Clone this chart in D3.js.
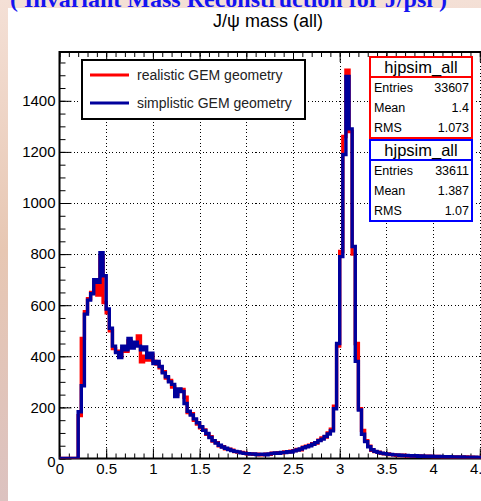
<!DOCTYPE html>
<html>
<head>
<meta charset="utf-8">
<script src="https://cdn.jsdelivr.net/npm/d3@7"></script>
<style>
  body { margin: 0; background: #fff; }
  svg { display: block; }
  text { font-family: "Liberation Sans", Arial, sans-serif; }
</style>
</head>
<body>
<svg width="481" height="501"></svg>
<script>
// 150 bins from 0 to 5 GeV
var binWidth = 1 / 30;

var simplistic = [
  0, 0, 0, 0, 0, 0, 183, 285, 565, 620,
  645, 700, 690, 805, 715, 585, 510, 440, 415, 395,
  440, 425, 470, 432, 455, 440, 425, 437, 395, 412,
  372, 380, 360, 335, 320, 300, 290, 242, 272, 262,
  215, 185, 170, 155, 140, 124, 110, 98, 82, 70,
  60, 52, 45, 40, 35, 31, 28, 26, 22, 20,
  19, 17, 18, 15, 16, 17, 14, 18, 20, 22,
  20, 24, 23, 27, 25, 30, 33, 37, 42, 46,
  50, 56, 62, 70, 76, 86, 96, 108, 195, 450,
  790, 1190, 1495, 1290, 830, 380, 190, 95, 66, 46,
  34, 28, 24, 21, 19, 17, 16, 14, 14, 13,
  12, 12, 11, 10, 11, 9, 10, 9, 8, 9,
  8, 7, 8, 7, 6, 7, 6, 6, 5, 6,
  5, 5, 4, 5, 4, 4, 4, 3, 4, 3,
  3, 3, 2, 3, 2, 2, 2, 2, 1, 2
];

var realistic = [
  0, 0, 0, 0, 0, 0, 168, 470, 575, 625,
  650, 690, 640, 790, 610, 570, 500, 430, 420, 400,
  430, 420, 460, 440, 450, 480, 378, 400, 385, 405,
  380, 370, 355, 340, 315, 305, 280, 250, 265, 270,
  240, 180, 175, 150, 135, 120, 112, 95, 85, 68,
  62, 50, 46, 38, 36, 32, 27, 25, 24, 21,
  18, 18, 16, 17, 14, 15, 17, 16, 21, 20,
  23, 22, 26, 25, 29, 31, 35, 34, 44, 48,
  52, 58, 60, 72, 80, 84, 100, 115, 205, 440,
  810, 1260, 1520, 1280, 800, 450, 195, 110, 70, 48,
  32, 27, 25, 20, 18, 18, 15, 14, 13, 12,
  13, 11, 10, 11, 9, 10, 9, 8, 9, 8,
  7, 8, 7, 6, 7, 6, 5, 6, 5, 5,
  6, 4, 5, 4, 4, 3, 4, 3, 3, 3,
  2, 3, 3, 2, 2, 2, 1, 2, 2, 1
];

var xTicks = [0, 0.5, 1, 1.5, 2, 2.5, 3, 3.5, 4, 4.5];
var yTicks = [0, 200, 400, 600, 800, 1000, 1200, 1400];

var legendLabels = ["realistic GEM geometry", "simplistic GEM geometry"];
var statNames = ["Entries", "Mean", "RMS"];
var statsRealistic = ["33607", "1.4", "1.073"];
var statsSimplistic = ["33611", "1.387", "1.07"];

var svg = d3.select("svg");

var x = d3.scaleLinear().domain([0, 5]).range([59.5, 526.5]);
var y = d3.scaleLinear().domain([0, 1591]).range([458.5, 52]);
var yTop = y.range()[1];

// slide background behind the canvas
var grad = svg.append("defs").append("linearGradient")
  .attr("id", "bg").attr("x1", 0).attr("y1", 0).attr("x2", 0).attr("y2", 1);
grad.append("stop").attr("offset", "0%").attr("stop-color", "#f4e0d6");
grad.append("stop").attr("offset", "50%").attr("stop-color", "#e7c7b3");
grad.append("stop").attr("offset", "100%").attr("stop-color", "#dcc2c0");
svg.append("rect").attr("width", 481).attr("height", 501).attr("fill", "url(#bg)");
svg.append("rect").attr("x", 8).attr("y", 8).attr("width", 473).attr("height", 493).attr("fill", "#fff");

svg.append("text")
  .attr("x", 10).attr("y", 7)
  .style("font-family", "'Liberation Serif', 'Times New Roman', serif")
  .style("font-weight", "bold")
  .style("font-size", "24px")
  .attr("fill", "#1414f0")
  .text("( Invariant Mass Reconstruction for J/psi )");

svg.append("text")
  .attr("x", 268).attr("y", 27)
  .attr("text-anchor", "middle")
  .style("font-size", "18px")
  .text("J/ψ mass (all)");

svg.append("clipPath").attr("id", "frameClip")
  .append("rect")
  .attr("x", x(0)).attr("y", yTop)
  .attr("width", x(5) - x(0)).attr("height", y(0) - yTop);

// dotted grid
svg.append("g")
  .attr("transform", "translate(0," + y(0) + ")")
  .call(d3.axisBottom(x).tickValues(xTicks.slice(1)).tickSize(-(y(0) - yTop)).tickFormat(""))
  .call(function(g) { g.select(".domain").remove(); })
  .selectAll("line").attr("stroke", "#000").attr("stroke-dasharray", "1,2.5")
  .attr("shape-rendering", "crispEdges");

svg.append("g")
  .attr("transform", "translate(" + x(0) + ",0)")
  .call(d3.axisLeft(y).tickValues(yTicks.slice(1)).tickSize(-(x(5) - x(0))).tickFormat(""))
  .call(function(g) { g.select(".domain").remove(); })
  .selectAll("line").attr("stroke", "#000").attr("stroke-dasharray", "1,2.5")
  .attr("shape-rendering", "crispEdges");

// minor ticks
var xMinor = d3.range(0, 50).map(function(i) { return i / 10; });
var yMinor = d3.range(0, 32).map(function(i) { return i * 50; });

svg.append("g")
  .attr("transform", "translate(0," + y(0) + ")")
  .call(d3.axisBottom(x).tickValues(xMinor).tickSize(-5).tickFormat(""))
  .call(function(g) { g.select(".domain").remove(); });
svg.append("g")
  .attr("transform", "translate(0," + yTop + ")")
  .call(d3.axisTop(x).tickValues(xMinor).tickSize(-5).tickFormat(""))
  .call(function(g) { g.select(".domain").remove(); });
svg.append("g")
  .attr("transform", "translate(" + x(0) + ",0)")
  .call(d3.axisLeft(y).tickValues(yMinor).tickSize(-6).tickFormat(""))
  .call(function(g) { g.select(".domain").remove(); });

// major ticks + labels
var xAxis = svg.append("g")
  .attr("transform", "translate(0," + y(0) + ")")
  .call(d3.axisBottom(x).tickValues(xTicks).tickSize(-10).tickPadding(5).tickFormat(d3.format("~g")));
xAxis.select(".domain").remove();
xAxis.selectAll("text").style("font-size", "15px").attr("fill", "#000");

svg.append("g")
  .attr("transform", "translate(0," + yTop + ")")
  .call(d3.axisTop(x).tickValues(xTicks).tickSize(-10).tickFormat(""))
  .call(function(g) { g.select(".domain").remove(); });

var yAxis = svg.append("g")
  .attr("transform", "translate(" + x(0) + ",0)")
  .call(d3.axisLeft(y).tickValues(yTicks).tickSize(-12).tickPadding(4).tickFormat(d3.format("d")));
yAxis.select(".domain").remove();
yAxis.selectAll("text").style("font-size", "15px").attr("fill", "#000");
yAxis.selectAll(".tick").filter(function(d) { return d === 0; }).select("text")
  .attr("dy", "0.5em").attr("x", -4);

svg.selectAll(".tick line").attr("stroke-width", 1);

// frame
svg.append("rect")
  .attr("x", x(0)).attr("y", yTop)
  .attr("width", x(5) - x(0)).attr("height", y(0) - yTop)
  .attr("fill", "none").attr("stroke", "#000").attr("stroke-width", 2);

function histPath(vals) {
  var p = d3.path();
  p.moveTo(x(0), y(vals[0]));
  vals.forEach(function(v, i) {
    if (i > 0) p.lineTo(x(i * binWidth), y(v));
    p.lineTo(x((i + 1) * binWidth), y(v));
  });
  return p.toString();
}

var hists = svg.append("g").attr("clip-path", "url(#frameClip)");
hists.append("path")
  .attr("d", histPath(realistic))
  .attr("fill", "none").attr("stroke", "#ff0000").attr("stroke-width", 3.4);
hists.append("path")
  .attr("d", histPath(simplistic))
  .attr("fill", "none").attr("stroke", "#00009c").attr("stroke-width", 3.4);

// legend
var legend = svg.append("g");
legend.append("rect")
  .attr("x", 82).attr("y", 60).attr("width", 223).attr("height", 59)
  .attr("fill", "#fff").attr("stroke", "#000").attr("stroke-width", 2);
var legColors = ["#ff0000", "#00009c"];
legendLabels.forEach(function(lab, i) {
  var ly = 75 + i * 28;
  legend.append("line")
    .attr("x1", 90).attr("x2", 129).attr("y1", ly).attr("y2", ly)
    .attr("stroke", legColors[i]).attr("stroke-width", 3);
  legend.append("text")
    .attr("x", 137).attr("y", ly + 5)
    .style("font-size", "14px").attr("fill", "#222")
    .text(lab);
});

// stats boxes
function statBox(boxTop, color, vals) {
  var g = svg.append("g");
  g.append("rect")
    .attr("x", 370).attr("y", boxTop).attr("width", 102).attr("height", 81)
    .attr("fill", "#fff").attr("stroke", color).attr("stroke-width", 2);
  g.append("line")
    .attr("x1", 370).attr("x2", 472).attr("y1", boxTop + 20).attr("y2", boxTop + 20)
    .attr("stroke", color).attr("stroke-width", 2);
  g.append("text")
    .attr("x", 421).attr("y", boxTop + 16)
    .attr("text-anchor", "middle")
    .style("font-size", "16.5px")
    .text("hjpsim_all");
  statNames.forEach(function(n, i) {
    var ty = boxTop + 34.5 + i * 20.3;
    g.append("text").attr("x", 374).attr("y", ty).style("font-size", "12.5px").text(n);
    g.append("text").attr("x", 469).attr("y", ty).attr("text-anchor", "end")
      .style("font-size", "12.5px").text(vals[i]);
  });
}
statBox(57, "#ff0000", statsRealistic);
statBox(140, "#0000ff", statsSimplistic);
</script>
</body>
</html>
